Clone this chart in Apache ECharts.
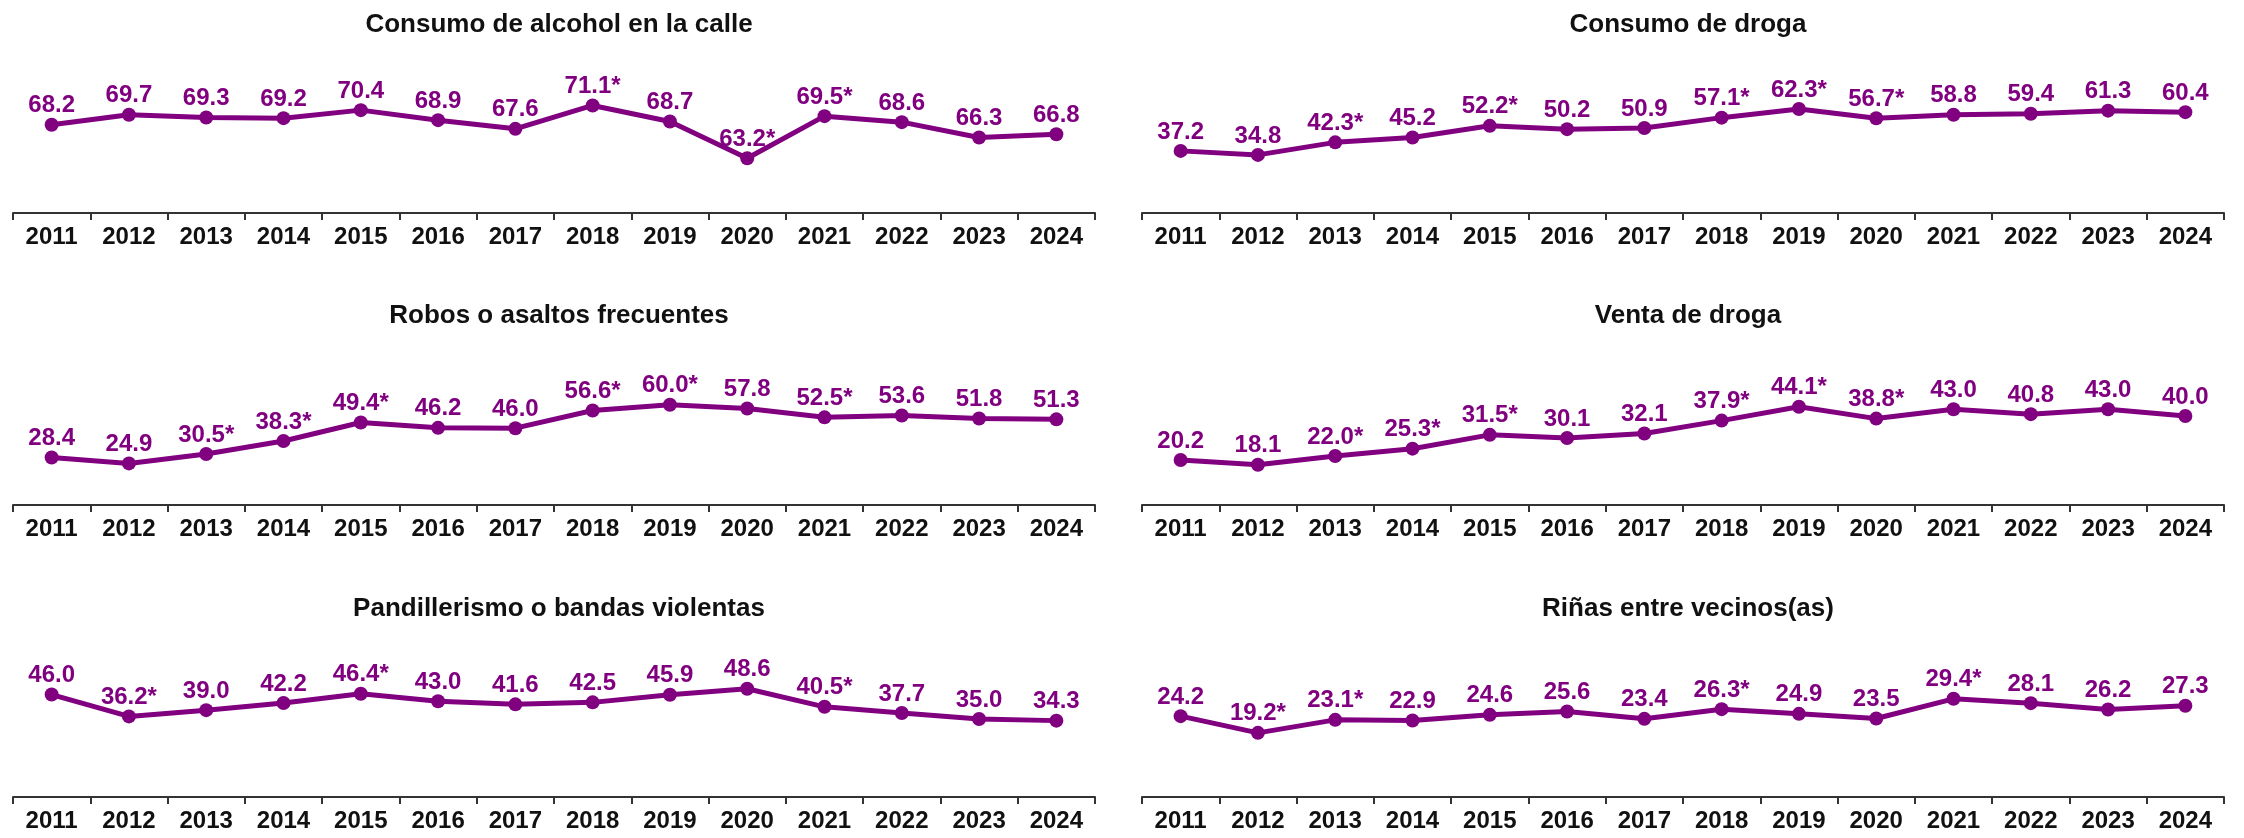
<!DOCTYPE html>
<html>
<head>
<meta charset="utf-8">
<script src="https://cdn.jsdelivr.net/npm/echarts@6/dist/echarts.min.js"></script>
<style>
html,body{margin:0;padding:0;background:#fff;}
#chart{width:2244px;height:838px;}
</style>
</head>
<body>
<div id="chart"></div>
<script>
// ---- data ----
const years = ['2011','2012','2013','2014','2015','2016','2017','2018','2019','2020','2021','2022','2023','2024'];

const titleAlcohol = 'Consumo de alcohol en la calle';
const alcohol     = [68.2, 69.7, 69.3, 69.2, 70.4, 68.9, 67.6, 71.1, 68.7, 63.2, 69.5, 68.6, 66.3, 66.8];
const alcoholStar = [0,0,0,0,0,0,0,1,0,1,1,0,0,0];

const titleConsumo = 'Consumo de droga';
const consumo      = [37.2, 34.8, 42.3, 45.2, 52.2, 50.2, 50.9, 57.1, 62.3, 56.7, 58.8, 59.4, 61.3, 60.4];
const consumoStar  = [0,0,1,0,1,0,0,1,1,1,0,0,0,0];

const titleRobos = 'Robos o asaltos frecuentes';
const robos      = [28.4, 24.9, 30.5, 38.3, 49.4, 46.2, 46.0, 56.6, 60.0, 57.8, 52.5, 53.6, 51.8, 51.3];
const robosStar  = [0,0,1,1,1,0,0,1,1,0,1,0,0,0];

const titleVenta = 'Venta de droga';
const venta      = [20.2, 18.1, 22.0, 25.3, 31.5, 30.1, 32.1, 37.9, 44.1, 38.8, 43.0, 40.8, 43.0, 40.0];
const ventaStar  = [0,0,1,1,1,0,0,1,1,1,0,0,0,0];

const titlePandillas = 'Pandillerismo o bandas violentas';
const pandillas      = [46.0, 36.2, 39.0, 42.2, 46.4, 43.0, 41.6, 42.5, 45.9, 48.6, 40.5, 37.7, 35.0, 34.3];
const pandillasStar  = [0,1,0,0,1,0,0,0,0,0,1,0,0,0];

const titleRinas = 'Riñas entre vecinos(as)';
const rinas      = [24.2, 19.2, 23.1, 22.9, 24.6, 25.6, 23.4, 26.3, 24.9, 23.5, 29.4, 28.1, 26.2, 27.3];
const rinasStar  = [0,1,1,0,0,0,0,1,0,0,1,0,0,0];

// ---- layout / styles ----
const panels = [
  {title: titleAlcohol,   values: alcohol,   stars: alcoholStar,   min: 55, max: 80,  col: 0, row: 0},
  {title: titleConsumo,   values: consumo,   stars: consumoStar,   min: 0,  max: 100, col: 1, row: 0},
  {title: titleRobos,     values: robos,     stars: robosStar,     min: 0,  max: 100, col: 0, row: 1},
  {title: titleVenta,     values: venta,     stars: ventaStar,     min: 0,  max: 75,  col: 1, row: 1},
  {title: titlePandillas, values: pandillas, stars: pandillasStar, min: 0,  max: 75,  col: 0, row: 2},
  {title: titleRinas,     values: rinas,     stars: rinasStar,     min: 0,  max: 50,  col: 1, row: 2}
];

const FONT = "'Liberation Sans', Arial, Helvetica, sans-serif";
const PURPLE = '#800080';
const colLeft = [13, 1142];
const colWidth = 1082;
const rowAxis = [213, 505, 797];
const plotH = 167;
const titleTop = [7, 298, 591];

const option = {
  animation: false,
  backgroundColor: '#ffffff',
  title: [], grid: [], xAxis: [], yAxis: [], series: []
};

panels.forEach((p, i) => {
  const left = colLeft[p.col];
  option.title.push({
    text: p.title,
    left: left + colWidth / 2,
    top: titleTop[p.row],
    textAlign: 'center',
    textStyle: {fontFamily: FONT, fontSize: 26, fontWeight: 'bold', color: '#111111'}
  });
  option.grid.push({
    left: left, width: colWidth,
    top: rowAxis[p.row] - plotH, height: plotH,
    containLabel: false
  });
  option.xAxis.push({
    type: 'category', gridIndex: i, data: years, boundaryGap: true,
    axisLine: {show: true, lineStyle: {color: '#333333', width: 2}},
    axisTick: {show: true, length: 7, lineStyle: {color: '#333333', width: 2}},
    axisLabel: {interval: 0, margin: 12, color: '#111111', fontFamily: FONT, fontSize: 24, fontWeight: 'bold'},
    splitLine: {show: false}
  });
  option.yAxis.push({
    type: 'value', gridIndex: i, min: p.min, max: p.max, show: false,
    splitLine: {show: false}
  });
  option.series.push({
    type: 'line', xAxisIndex: i, yAxisIndex: i,
    data: p.values,
    symbol: 'circle', symbolSize: 14,
    lineStyle: {color: PURPLE, width: 5},
    itemStyle: {color: PURPLE},
    label: {
      show: true, position: 'top', distance: 0,
      color: PURPLE, fontFamily: FONT, fontSize: 24, fontWeight: 'bold',
      formatter: (d) => d.value.toFixed(1) + (p.stars[d.dataIndex] ? '*' : '')
    }
  });
});

const chart = echarts.init(document.getElementById('chart'), null, {renderer: 'canvas'});
chart.setOption(option);
</script>
</body>
</html>
